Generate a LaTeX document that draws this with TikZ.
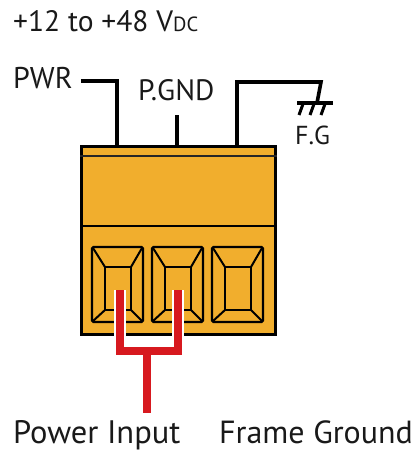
\documentclass[tikz,border=0pt]{standalone}
\usepackage{fontspec}
\setmainfont{PT Sans}
\usetikzlibrary{positioning}

\definecolor{blockorange}{HTML}{F1AE2D}
\definecolor{wirered}{HTML}{D7191F}

\tikzstyle{lbl} = [inner sep=0pt, anchor=base west, text=black!90]
\tikzstyle{wire} = [line width=3.6pt, draw=black]
\tikzstyle{redwire} = [line width=8pt, draw=wirered]
\tikzstyle{halo} = [line width=12pt, draw=white]
\tikzstyle{socket} = [line width=2.4pt, draw=black, rounded corners=1.5pt]
\tikzstyle{bevel} = [line width=2pt, draw=black]

\begin{document}
\begin{tikzpicture}[x=1pt,y=-1pt,line join=miter]
\useasboundingbox (0,0) rectangle (417,453);

% labels
\node[lbl, font=\fontsize{29.5}{34}\selectfont] (supply) at (13,31) {+12 to +48 V{\fontsize{20.5}{24}\selectfont DC}};
\node[lbl, font=\fontsize{30}{34}\selectfont] (pwr) at (13,88) {PWR};
\node[lbl, font=\fontsize{29.5}{34}\selectfont] (pgnd) at (138,100) {P.GND};
\node[lbl, font=\fontsize{26}{30}\selectfont] (fg) at (295,144) {F.G};
\node[lbl, font=\fontsize{32.5}{36}\selectfont] (power) at (13,443) {Power Input};
\node[lbl, font=\fontsize{32}{36}\selectfont] (frame) at (219,443) {Frame Ground};

% connector block
\node[draw, line width=2.6pt, fill=blockorange, minimum width=194pt, minimum height=188pt, inner sep=0pt] (block) at (178.5,240.3) {};
\draw[line width=2pt, draw=black!85] ([yshift=-11pt]block.north west) -- ([yshift=-11pt]block.north east);
\draw[line width=2.4pt] ([yshift=-81pt]block.north west) -- ([yshift=-81pt]block.north east);

\foreach \tx [count=\i] in {92,152,212} {
  \draw[socket] (\tx,247) rectangle (\tx+51,322);
  \draw[bevel] (\tx+13,267) rectangle (\tx+39,310);
  \draw[bevel] (\tx+1,248) -- (\tx+13,267);
  \draw[bevel] (\tx+50,248) -- (\tx+39,267);
  \draw[bevel] (\tx+1,321) -- (\tx+13,310);
  \draw[bevel] (\tx+50,321) -- (\tx+39,310);
}

% pins on top of the block
\coordinate (pin1) at (117,146);
\coordinate (pin2) at (177,146);
\coordinate (pin3) at (237,146);
\coordinate (gndtop) at (321,82);
\coordinate (gndbar) at (317,103);

\draw[wire] ([xshift=8pt,yshift=7pt]pwr.base east) -| (pin1);
\draw[wire] (177,115) -- (pin2);
\draw[wire] (pin3) |- (gndtop) -- (gndbar);
\draw[wire] (297,103) -- (333,103);
\foreach \hx in {303,314,325}
  \draw[line width=3pt] (\hx,104) -- (\hx-4,115);

% red leads into the terminals
\coordinate (t1) at (120,290);
\coordinate (t2) at (178,290);
\coordinate (j1) at (120,351);
\coordinate (j2) at (178,351);
\coordinate (tap) at (147,351);
\coordinate (stemend) at (147,413);

\draw[halo] (t1) -- (j1) -- (j2) -- (t2);
\draw[halo] (tap) -- (stemend);
\draw[redwire] (t1) -- (j1) -- (j2) -- (t2);
\draw[redwire] (tap) -- (stemend);

\end{tikzpicture}
\end{document}
